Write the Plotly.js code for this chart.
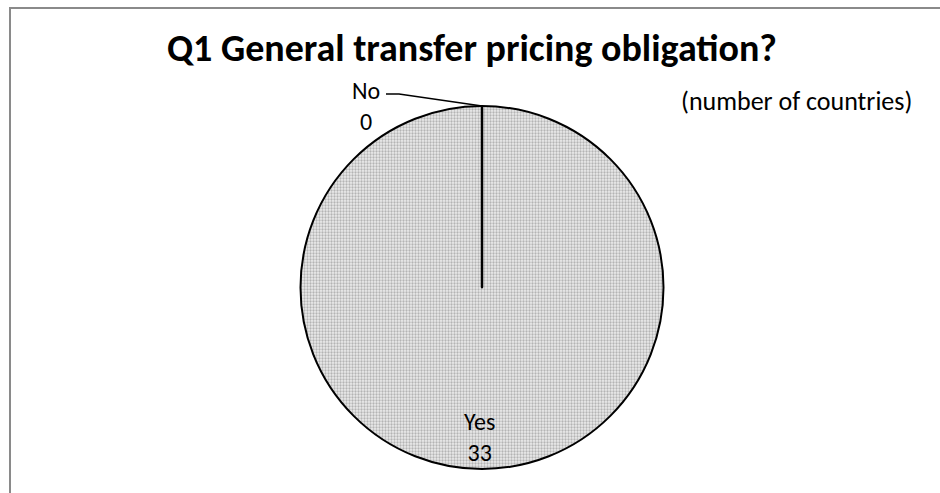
<!DOCTYPE html>
<html>
<head>
<meta charset="utf-8">
<script src="https://cdn.plot.ly/plotly-3.0.1.min.js"></script>
<style>html,body{margin:0;padding:0;background:#fff;}#chart{width:940px;height:493px;}</style>
</head>
<body>
<div id="chart"></div>
<script>
// Data
const labels = ['Yes', 'No'];
const values = [33, 0];
const chartTitle = 'Q1 General transfer pricing obligation?';
const subtitle = '(number of countries)';

const W = 940, H = 493;
const FONT = 'Carlito, Calibri, "Open Sans", sans-serif';
const px = v => v / W;
const py = v => 1 - v / H;

// pie geometry (paper)
const cxPx = 482, topPx = 106, botPx = 469;
const rPx = (botPx - topPx) / 2;
const domX = [px(cxPx - rPx), px(cxPx + rPx)];
const domY = [py(botPx), py(topPx)];
const cx = (domX[0] + domX[1]) / 2;
const cy = (domY[0] + domY[1]) / 2;

const trace = {
  type: 'pie',
  labels: labels,
  values: values,
  sort: false,
  direction: 'clockwise',
  rotation: 0,
  textinfo: 'none',
  hoverinfo: 'label+value',
  showlegend: false,
  domain: {x: domX, y: domY},
  marker: {
    colors: ['#d8d8d8', '#d8d8d8'],
    line: {color: '#000', width: 2},
    pattern: {shape: '.', bgcolor: '#ececec', fgcolor: '#b4b4b4', size: 3, solidity: 0.45}
  }
};

const LBL = {family: FONT, size: 24, color: '#000'};
const lab = (i, x, y) => ({text: labels[i] + '<br>' + values[i], xref: 'paper', yref: 'paper',
  x: px(x), y: py(y), showarrow: false, xanchor: 'center', yanchor: 'middle', align: 'center', font: LBL});

const layout = {
  width: W, height: H,
  margin: {l: 0, r: 0, t: 0, b: 0},
  paper_bgcolor: '#fff',
  title: {
    text: '<b>' + chartTitle + '</b>',
    font: {family: FONT, size: 38, color: '#000'},
    x: 472 / W, xanchor: 'center',
    y: py(48), yanchor: 'middle'
  },
  shapes: [
    {type: 'rect', xref: 'paper', yref: 'paper', x0: px(10), x1: 1.02, y0: -0.02, y1: py(8),
     line: {color: '#8a8a8a', width: 2}, fillcolor: 'rgba(0,0,0,0)'},
    // zero-width "No" slice boundary at the top of the pie
    {type: 'line', xref: 'paper', yref: 'paper', x0: cx, y0: cy, x1: cx, y1: domY[1],
     line: {color: '#000', width: 2.5}},
    // leader line for "No" label
    {type: 'path', xref: 'paper', yref: 'paper',
     path: 'M ' + px(386) + ' ' + py(94) + ' L ' + px(399) + ' ' + py(94) + ' L ' + cx + ' ' + domY[1],
     line: {color: '#000', width: 1.5}}
  ],
  annotations: [
    lab(0, 479, 437),
    lab(1, 366, 106),
    {text: subtitle, xref: 'paper', yref: 'paper', x: px(679), y: py(101),
     showarrow: false, xanchor: 'left', yanchor: 'middle', font: {family: FONT, size: 26, color: '#000'}}
  ]
};

Plotly.newPlot('chart', [trace], layout, {displayModeBar: false, staticPlot: true});
</script>
</body>
</html>
